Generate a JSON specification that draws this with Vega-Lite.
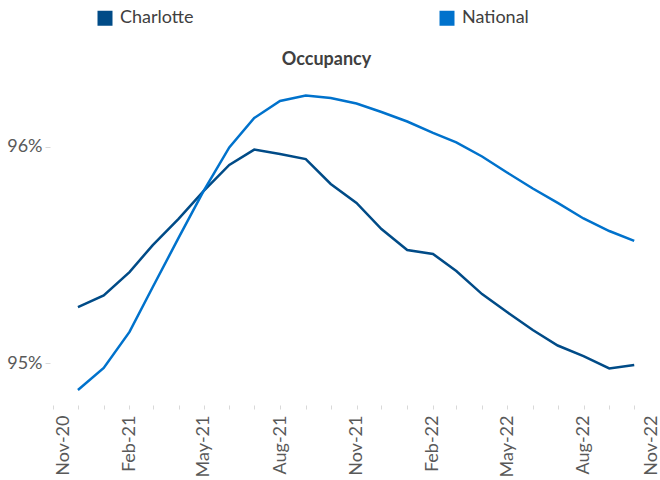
{
  "$schema": "https://vega.github.io/schema/vega-lite/v6.json",
  "autosize": {"type": "none"},
  "padding": {"left": 53, "top": 75, "right": 0, "bottom": 75},
  "width": 607,
  "height": 330,
  "background": "white",
  "config": {
    "view": {"stroke": null},
    "font": "Lato",
    "axis": {"grid": false, "domain": false, "labelFont": "Lato", "labelFontSize": 18, "labelColor": "#595959", "tickColor": "#d9d9d9"}
  },
  "title": {
    "text": "Occupancy",
    "font": "Lato",
    "fontSize": 18,
    "fontWeight": "bold",
    "color": "#404040",
    "anchor": "middle",
    "dx": -30,
    "dy": 85,
    "baseline": "alphabetic",
    "offset": 11
  },
  "data": {
    "values": [
      {"month": "2020-12", "series": "Charlotte", "occ": 0.95259},
      {"month": "2021-01", "series": "Charlotte", "occ": 0.953125},
      {"month": "2021-02", "series": "Charlotte", "occ": 0.95421},
      {"month": "2021-03", "series": "Charlotte", "occ": 0.95546},
      {"month": "2021-04", "series": "Charlotte", "occ": 0.95667},
      {"month": "2021-05", "series": "Charlotte", "occ": 0.95796},
      {"month": "2021-06", "series": "Charlotte", "occ": 0.95917},
      {"month": "2021-07", "series": "Charlotte", "occ": 0.95988},
      {"month": "2021-08", "series": "Charlotte", "occ": 0.95968},
      {"month": "2021-09", "series": "Charlotte", "occ": 0.95944},
      {"month": "2021-10", "series": "Charlotte", "occ": 0.95829},
      {"month": "2021-11", "series": "Charlotte", "occ": 0.95741},
      {"month": "2021-12", "series": "Charlotte", "occ": 0.9562},
      {"month": "2022-01", "series": "Charlotte", "occ": 0.95523},
      {"month": "2022-02", "series": "Charlotte", "occ": 0.95505},
      {"month": "2022-03", "series": "Charlotte", "occ": 0.95426},
      {"month": "2022-04", "series": "Charlotte", "occ": 0.95319},
      {"month": "2022-05", "series": "Charlotte", "occ": 0.95236},
      {"month": "2022-06", "series": "Charlotte", "occ": 0.95153},
      {"month": "2022-07", "series": "Charlotte", "occ": 0.95081},
      {"month": "2022-08", "series": "Charlotte", "occ": 0.95032},
      {"month": "2022-09", "series": "Charlotte", "occ": 0.94975},
      {"month": "2022-10", "series": "Charlotte", "occ": 0.94991},
      {"month": "2020-12", "series": "National", "occ": 0.94875},
      {"month": "2021-01", "series": "National", "occ": 0.94977},
      {"month": "2021-02", "series": "National", "occ": 0.95144},
      {"month": "2021-03", "series": "National", "occ": 0.95352},
      {"month": "2021-04", "series": "National", "occ": 0.95579},
      {"month": "2021-05", "series": "National", "occ": 0.95796},
      {"month": "2021-06", "series": "National", "occ": 0.95998},
      {"month": "2021-07", "series": "National", "occ": 0.96134},
      {"month": "2021-08", "series": "National", "occ": 0.96213},
      {"month": "2021-09", "series": "National", "occ": 0.96238},
      {"month": "2021-10", "series": "National", "occ": 0.96227},
      {"month": "2021-11", "series": "National", "occ": 0.96201},
      {"month": "2021-12", "series": "National", "occ": 0.96162},
      {"month": "2022-01", "series": "National", "occ": 0.96118},
      {"month": "2022-02", "series": "National", "occ": 0.96065},
      {"month": "2022-03", "series": "National", "occ": 0.96021},
      {"month": "2022-04", "series": "National", "occ": 0.95956},
      {"month": "2022-05", "series": "National", "occ": 0.95882},
      {"month": "2022-06", "series": "National", "occ": 0.95808},
      {"month": "2022-07", "series": "National", "occ": 0.95741},
      {"month": "2022-08", "series": "National", "occ": 0.95669},
      {"month": "2022-09", "series": "National", "occ": 0.95611},
      {"month": "2022-10", "series": "National", "occ": 0.95565}
    ],
    "format": {"parse": {"month": "date:'%Y-%m'"}}
  },
  "mark": {"type": "line", "strokeWidth": 2.5, "clip": false},
  "encoding": {
    "x": {
      "field": "month",
      "type": "temporal",
      "scale": {"domain": [{"year": 2020, "month": 11, "date": 1}, {"year": 2022, "month": 11, "date": 1}], "nice": false},
      "axis": {
        "title": null,
        "values": [
          {"year": 2020, "month": 11, "date": 1}, {"year": 2020, "month": 12, "date": 1},
          {"year": 2021, "month": 1, "date": 1}, {"year": 2021, "month": 2, "date": 1}, {"year": 2021, "month": 3, "date": 1},
          {"year": 2021, "month": 4, "date": 1}, {"year": 2021, "month": 5, "date": 1}, {"year": 2021, "month": 6, "date": 1},
          {"year": 2021, "month": 7, "date": 1}, {"year": 2021, "month": 8, "date": 1}, {"year": 2021, "month": 9, "date": 1},
          {"year": 2021, "month": 10, "date": 1}, {"year": 2021, "month": 11, "date": 1}, {"year": 2021, "month": 12, "date": 1},
          {"year": 2022, "month": 1, "date": 1}, {"year": 2022, "month": 2, "date": 1}, {"year": 2022, "month": 3, "date": 1},
          {"year": 2022, "month": 4, "date": 1}, {"year": 2022, "month": 5, "date": 1}, {"year": 2022, "month": 6, "date": 1},
          {"year": 2022, "month": 7, "date": 1}, {"year": 2022, "month": 8, "date": 1}, {"year": 2022, "month": 9, "date": 1},
          {"year": 2022, "month": 10, "date": 1}, {"year": 2022, "month": 11, "date": 1}
        ],
        "labelExpr": "month(datum.value) % 3 == 1 ? timeFormat(datum.value, '%b-%y') : ''",
        "labelAngle": -90,
        "labelOverlap": false,
        "labelPadding": 6,
        "tickSize": 4,
        "labelOffset": {"condition": [
          {"test": "year(datum.value) == 2020 && month(datum.value) == 10", "value": 10},
          {"test": "year(datum.value) == 2022 && month(datum.value) == 10", "value": -9}
        ], "value": 0}
      }
    },
    "y": {
      "field": "occ",
      "type": "quantitative",
      "scale": {"domain": [0.948056, 0.963333], "nice": false, "zero": false},
      "axis": {
        "title": null,
        "values": [0.95, 0.96],
        "format": ".0%",
        "offset": 3,
        "tickSize": 5,
        "labelPadding": 3
      }
    },
    "color": {
      "field": "series",
      "type": "nominal",
      "scale": {"domain": ["Charlotte", "National"], "range": ["#004B87", "#0072CC"]},
      "legend": {
        "title": null,
        "orient": "none",
        "legendX": 43,
        "legendY": -66,
        "direction": "horizontal",
        "columns": 2,
        "columnPadding": 233,
        "symbolType": "square",
        "symbolSize": 49,
        "symbolStrokeWidth": 8,
        "labelOffset": 6,
        "labelFont": "Lato",
        "labelFontSize": 18,
        "labelColor": "#404040"
      }
    }
  }
}
